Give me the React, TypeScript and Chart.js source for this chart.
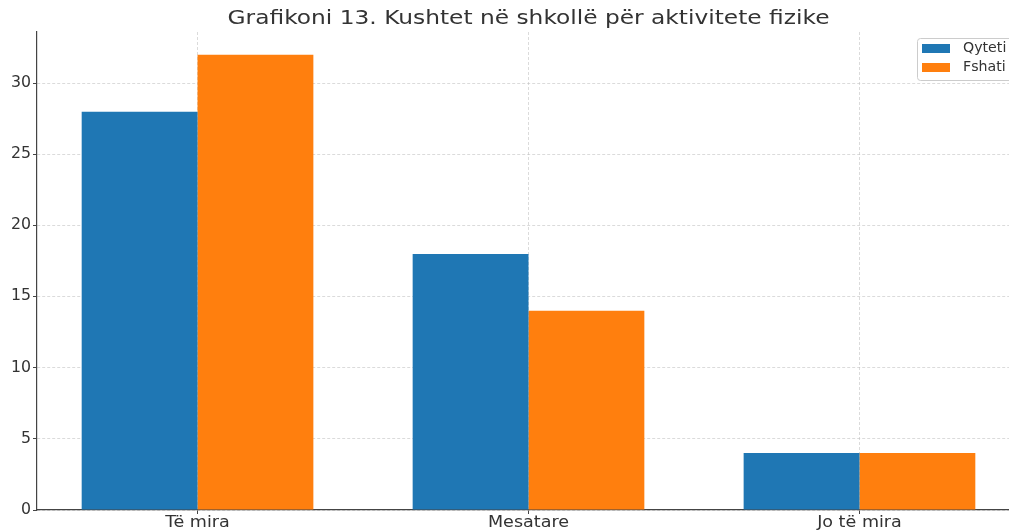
import React, { useEffect, useRef } from "react";
import { Chart, registerables } from "chart.js";

Chart.register(...registerables);

const title = "Grafikoni 13. Kushtet në shkollë për aktivitete fizike";
const categories = ["Të mira", "Mesatare", "Jo të mira"];
const qyteti = [28, 18, 4];
const fshati = [32, 14, 4];
const seriesNames = ["Qyteti", "Fshati"];
const colors = ["#1f77b4", "#ff7f0e"];
const yTicks = [0, 5, 10, 15, 20, 25, 30];
const yMax = 33.6;

const FONT = "'DejaVu Sans', sans-serif";
const TEXT = "#333333";

function stretchText(ctx: CanvasRenderingContext2D, text: string, x: number, y: number, align: CanvasTextAlign, sx: number) {
  ctx.save();
  ctx.translate(x, y);
  ctx.scale(sx, 1);
  ctx.textAlign = align;
  ctx.fillText(text, 0, 0);
  ctx.restore();
}

const decorPlugin = {
  id: "decor",
  afterDraw(chart: any) {
    const { ctx, chartArea } = chart;
    const xs = chart.scales.x;
    const ys = chart.scales.y;
    ctx.save();
    ctx.fillStyle = TEXT;
    // title
    ctx.font = `20px ${FONT}`;
    ctx.textBaseline = "alphabetic";
    stretchText(ctx, title, (chartArea.left + chartArea.right) / 2, 24, "center", 1.165);
    // x tick labels
    ctx.font = `15px ${FONT}`;
    categories.forEach((c, i) => {
      stretchText(ctx, c, xs.getPixelForValue(i), 527, "center", 1.17);
    });
    // y tick labels
    ctx.textBaseline = "middle";
    yTicks.forEach((v) => {
      stretchText(ctx, String(v), 31, ys.getPixelForValue(v), "right", 1.05);
    });
    // legend
    const lx = 917.5, ly = 38.5, lw = 100, lh = 42;
    ctx.fillStyle = "rgba(255,255,255,0.85)";
    ctx.strokeStyle = "#cccccc";
    ctx.lineWidth = 1;
    ctx.beginPath();
    const r = 3;
    ctx.moveTo(lx + r, ly);
    ctx.lineTo(lx + lw - r, ly);
    ctx.arcTo(lx + lw, ly, lx + lw, ly + r, r);
    ctx.lineTo(lx + lw, ly + lh - r);
    ctx.arcTo(lx + lw, ly + lh, lx + lw - r, ly + lh, r);
    ctx.lineTo(lx + r, ly + lh);
    ctx.arcTo(lx, ly + lh, lx, ly + lh - r, r);
    ctx.lineTo(lx, ly + r);
    ctx.arcTo(lx, ly, lx + r, ly, r);
    ctx.closePath();
    ctx.fill();
    ctx.stroke();
    ctx.font = `13.5px ${FONT}`;
    ctx.textBaseline = "middle";
    seriesNames.forEach((name, i) => {
      const y = 48.5 + i * 19;
      ctx.fillStyle = colors[i];
      ctx.fillRect(922, y - 4.5, 28, 9);
      ctx.fillStyle = TEXT;
      stretchText(ctx, name, 963, y, "left", 1.05);
    });
    ctx.restore();
  },
};

export default function App() {
  const ref = useRef<HTMLCanvasElement>(null);
  useEffect(() => {
    document.body.style.overflow = "hidden";
    document.documentElement.style.overflow = "hidden";
    const canvas = ref.current!;
    const gridOpts = {
      color: "rgba(190,190,190,0.7)",
      lineWidth: 0.8,
      tickLength: 4,
      tickColor: "#444444",
      tickWidth: 1,
      offset: false,
    };
    const chart = new Chart(canvas, {
      type: "bar",
      data: {
        datasets: [
          {
            label: seriesNames[0],
            data: qyteti.map((v, i) => ({ x: i, y: v })),
            backgroundColor: colors[0],
            borderWidth: 0,
          },
          {
            label: seriesNames[1],
            data: fshati.map((v, i) => ({ x: i, y: v })),
            backgroundColor: colors[1],
            borderWidth: 0,
          },
        ],
      },
      plugins: [decorPlugin],
      options: {
        animation: false,
        responsive: false,
        maintainAspectRatio: false,
        devicePixelRatio: 1,
        categoryPercentage: 0.7,
        barPercentage: 1,
        layout: { padding: { top: 32, right: 10, left: 0, bottom: 0 } },
        plugins: {
          legend: { display: false },
          title: { display: false },
          tooltip: { enabled: false },
        },
        scales: {
          x: {
            type: "linear",
            offset: false,
            min: -0.485,
            max: 2.485,
            afterBuildTicks: (s: any) => {
              s.ticks = categories.map((_, i) => ({ value: i }));
            },
            afterFit: (s: any) => {
              s.height = 21;
            },
            ticks: { display: false },
            grid: gridOpts,
            border: { display: true, color: "#444444", width: 1.2, dash: [3, 2] },
          },
          y: {
            min: 0,
            max: yMax,
            afterBuildTicks: (s: any) => {
              s.ticks = yTicks.map((v) => ({ value: v }));
            },
            afterFit: (s: any) => {
              s.width = 37;
            },
            ticks: { display: false },
            grid: gridOpts,
            border: { display: true, color: "#444444", width: 1.2, dash: [3, 2] },
          },
        },
      },
    } as any);
    return () => chart.destroy();
  }, []);
  return (
    <div style={{ position: "absolute", left: 0, top: 0, width: 1030, height: 531 }}>
      <canvas ref={ref} width={1030} height={531} style={{ width: 1030, height: 531, display: "block" }} />
    </div>
  );
}
